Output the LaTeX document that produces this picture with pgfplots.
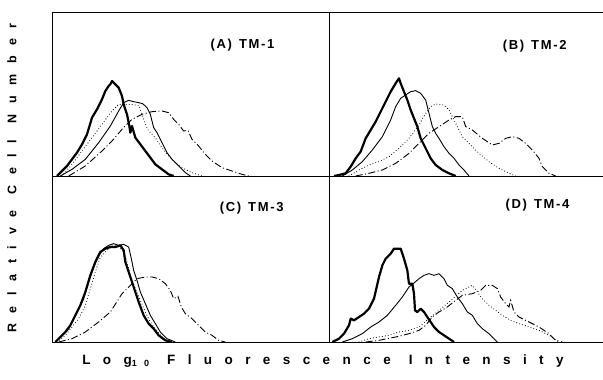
\documentclass[border=0pt]{standalone}
\usepackage{fontspec}
\setmainfont{Liberation Sans}
\usepackage{pgfplots}
\pgfplotsset{compat=1.18}
\pgfplotsset{
  panel/.style={scale only axis, xtick=\empty, ytick=\empty, xmin=0, ymin=0,
    axis line style={line width=0.9pt}, clip=true},
  thickc/.style={black, no markers, line width=2.2pt, line join=round},
  thinc/.style={black, no markers, line width=0.9pt, line join=round},
  dotc/.style={black, no markers, line width=1.1pt, line cap=round, dash pattern=on 0pt off 3pt},
  dashdotc/.style={black, no markers, line width=0.9pt, dash pattern=on 7pt off 2.5pt on 1pt off 2.5pt},
}
\newcommand{\ttl}{\fontsize{13}{14}\selectfont\bfseries\addfontfeatures{LetterSpace=13}}
\begin{document}
\begin{tikzpicture}
\useasboundingbox (0pt,0pt) rectangle (603pt,380pt);
% (A)
\begin{axis}[panel, at={(52pt,204pt)}, anchor=south west, width=277pt, height=164pt,
  xmax=831, ymax=492]
\addplot[dashdotc] coordinates {(50,0)(100,30)(150,75)(180,105)(210,140)(240,170)(270,185)(300,193)(330,195)(350,190)(365,170)(380,155)(395,135)(408,137)(420,110)(440,90)(460,65)(480,45)(510,25)(540,15)(570,5)(590,0)};
\addplot[dotc] coordinates {(30,0)(60,35)(90,75)(120,115)(150,155)(180,195)(200,215)(230,215)(260,212)(270,185)(280,155)(290,135)(310,115)(330,85)(350,60)(370,40)(390,25)(420,10)(450,0)};
\addplot[thinc] coordinates {(25,0)(60,20)(100,50)(140,100)(175,150)(200,195)(215,220)(230,227)(245,223)(260,220)(272,217)(285,205)(295,185)(305,145)(315,130)(330,100)(345,70)(360,50)(380,30)(400,10)(415,0)};
\addplot[thickc] coordinates {(15,0)(30,15)(45,30)(60,50)(75,70)(90,95)(105,125)(120,175)(135,200)(150,230)(160,255)(170,270)(175,275)(180,285)(190,275)(200,265)(210,240)(215,215)(225,185)(232,150)(235,130)(240,150)(250,115)(265,95)(280,75)(295,55)(310,35)(330,20)(350,5)(365,0)};
\node[font=\ttl, anchor=west] at (rel axis cs:0.560,0.80) {(A)\hspace{7pt}TM-1};
\end{axis}
% (B)
\begin{axis}[panel, at={(329pt,204pt)}, anchor=south west, width=276pt, height=164pt,
  xmax=828, ymax=492]
\addplot[dashdotc] coordinates {(80,0)(120,8)(160,18)(200,38)(240,68)(270,98)(300,128)(330,148)(360,168)(380,178)(400,178)(410,148)(430,138)(460,113)(490,93)(510,98)(530,113)(550,118)(570,113)(590,98)(610,78)(630,53)(640,28)(660,8)(680,0)};
\addplot[dotc] coordinates {(60,0)(90,18)(120,33)(150,43)(180,58)(210,83)(240,113)(270,153)(290,188)(305,208)(320,216)(345,213)(360,198)(375,168)(390,138)(400,118)(415,103)(430,88)(450,68)(480,43)(510,23)(540,8)(560,0)};
\addplot[thinc] coordinates {(40,0)(70,18)(100,43)(130,78)(160,118)(185,168)(200,208)(215,233)(230,243)(245,253)(260,256)(275,248)(290,228)(300,188)(310,148)(320,128)(330,113)(345,88)(360,68)(375,53)(390,33)(405,18)(420,0)};
\addplot[thickc] coordinates {(15,0)(30,3)(50,8)(65,28)(80,53)(95,73)(110,113)(125,138)(140,163)(155,193)(170,223)(185,253)(200,278)(210,293)(215,278)(225,253)(235,228)(245,198)(255,173)(265,148)(275,113)(285,93)(295,73)(305,53)(320,33)(340,18)(360,8)(380,0)};
\node[font=\ttl, anchor=west] at (rel axis cs:0.617,0.79) {(B)\hspace{7pt}TM-2};
\end{axis}
% (C)
\begin{axis}[panel, at={(52pt,38pt)}, anchor=south west, width=277pt, height=166pt,
  xmax=831, ymax=498]
\addplot[dashdotc] coordinates {(20,0)(60,10)(100,30)(140,60)(175,90)(210,145)(235,170)(255,190)(280,195)(300,195)(320,190)(340,175)(355,155)(365,130)(378,137)(388,105)(400,85)(420,70)(440,50)(460,30)(480,20)(500,5)(520,0)};
\addplot[dotc] coordinates {(15,0)(40,20)(60,45)(80,70)(100,110)(115,160)(130,210)(145,255)(165,275)(185,290)(200,285)(215,270)(225,240)(235,200)(250,160)(265,125)(280,90)(295,60)(310,40)(330,15)(350,0)};
\addplot[thinc] coordinates {(10,0)(30,20)(50,40)(65,70)(80,100)(95,130)(110,180)(125,225)(140,260)(155,280)(170,290)(185,295)(200,290)(215,293)(230,285)(238,250)(245,215)(255,185)(265,150)(280,115)(295,80)(310,55)(325,30)(345,10)(370,0)};
\addplot[thickc] coordinates {(10,0)(25,15)(40,30)(55,50)(70,80)(85,110)(100,150)(115,200)(130,240)(145,270)(160,280)(175,285)(190,285)(205,290)(215,275)(220,240)(230,210)(240,180)(250,150)(260,120)(275,80)(290,55)(305,40)(320,20)(340,5)(360,0)};
\node[font=\ttl, anchor=west] at (rel axis cs:0.593,0.807) {(C)\hspace{7pt}TM-3};
\end{axis}
% (D)
\begin{axis}[panel, at={(329pt,38pt)}, anchor=south west, width=276pt, height=166pt,
  xmax=828, ymax=498]
\addplot[dashdotc] coordinates {(110,0)(150,5)(200,15)(240,25)(270,35)(290,50)(310,75)(330,90)(355,105)(380,125)(400,140)(430,145)(455,155)(470,170)(490,170)(505,160)(515,135)(530,115)(540,105)(545,125)(555,90)(570,75)(600,60)(630,45)(660,25)(680,5)(700,0)};
\addplot[dotc] coordinates {(90,0)(120,10)(150,15)(180,20)(210,30)(240,35)(270,45)(300,70)(330,95)(360,120)(400,155)(430,170)(445,150)(460,130)(480,110)(500,95)(520,80)(545,65)(570,55)(600,45)(630,35)(660,20)(690,0)};
\addplot[thinc] coordinates {(40,0)(70,10)(100,25)(125,45)(150,60)(175,80)(200,110)(220,135)(240,165)(255,177)(270,190)(285,200)(300,205)(315,200)(330,205)(345,190)(355,170)(370,160)(385,135)(400,115)(415,90)(430,80)(445,55)(460,40)(480,25)(495,10)(505,0)};
\addplot[thickc] coordinates {(10,0)(30,10)(45,25)(60,50)(65,70)(75,65)(90,75)(105,85)(120,100)(135,130)(150,195)(160,230)(170,250)(185,265)(195,280)(215,280)(225,250)(235,215)(240,175)(250,175)(255,145)(258,95)(265,90)(275,100)(285,90)(295,75)(305,60)(315,45)(330,30)(345,20)(360,10)(375,0)};
\node[font=\ttl, anchor=west] at (rel axis cs:0.627,0.825) {(D)\hspace{7pt}TM-4};
\end{axis}
\node[rotate=90, font={\fontsize{12.5}{14}\selectfont\bfseries\addfontfeatures{LetterSpace=85}}] at (12pt,202pt) {Relative\hspace{16pt}Cell\hspace{16pt}Number};
\node[font={\fontsize{13.5}{15}\selectfont\bfseries\addfontfeatures{LetterSpace=92}}] at (323pt,19pt) {Log\raisebox{-0.35ex}{\fontsize{9}{10}\selectfont\addfontfeatures{LetterSpace=80}10}\hspace{18pt}Fluorescence\hspace{18pt}Intensity};
\end{tikzpicture}
\end{document}
